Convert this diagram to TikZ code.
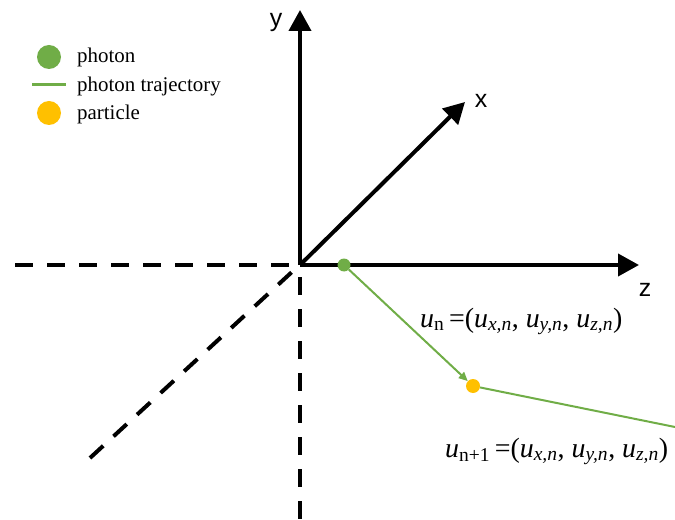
\documentclass[tikz,border=0pt]{standalone}
\usepackage{fontspec}
\setmainfont{Liberation Serif}
\newfontfamily\axisfont{Liberation Sans}
\usetikzlibrary{arrows.meta}
\definecolor{photongreen}{HTML}{70AD47}
\definecolor{particleorange}{HTML}{FFC000}
\newcommand{\usym}[1]{\textit{u}\textsubscript{#1}}

\begin{document}
\begin{tikzpicture}[x=1bp, y=-1bp,
    axis/.style={line width=4bp, -{Triangle[length=21bp,width=22bp]}},
    dashaxis/.style={line width=4bp, dash pattern=on 18bp off 14bp},
    axislabel/.style={font=\axisfont\fontsize{25}{25}\selectfont},
    photon/.style={circle, fill=photongreen, inner sep=0pt, minimum size=13bp},
    particle/.style={circle, fill=particleorange, inner sep=0pt, minimum size=14bp},
    traj/.style={photongreen, line width=2bp},
    legendtext/.style={anchor=base west, inner sep=0pt, font=\fontsize{21}{21}\selectfont},
    ulabel/.style={anchor=base west, inner sep=0pt, font=\fontsize{28}{28}\selectfont}]
    \useasboundingbox (0,0) rectangle (675,520);

    % legend
    \node[photon, minimum size=24bp] (legph) at (49,57) {};
    \node[particle, minimum size=24bp] (legpt) at (49,113) {};
    \coordinate (legtrajA) at (32,85);
    \coordinate (legtrajB) at (66,85);
    \draw[traj, line width=3bp] (legtrajA) -- (legtrajB);
    \node[legendtext] (legphtext) at (77,63) {photon};
    \node[legendtext] (legtrajtext) at (77,92) {photon trajectory};
    \node[legendtext] (legpttext) at (77,120) {particle};

    % axes
    \coordinate (origin) at (300,265);
    \coordinate (ytip) at (300,10);
    \coordinate (xtip) at (465,102);
    \coordinate (ztip) at (639,265);
    \draw[axis] (origin) -- (ytip);
    \draw[axis] (origin) -- (xtip);
    \draw[axis] (origin) -- (ztip);
    \node[axislabel] (ylabel) at (276,23) {y};
    \node[axislabel] (xlabel) at (481,101) {x};
    \node[axislabel] (zlabel) at (645,290) {z};

    % negative half-axes
    \coordinate (zneg) at (15,265);
    \coordinate (yneg) at (300,520);
    \coordinate (xneg) at (90,458);
    \coordinate (ystart) at (300,277);
    \coordinate (xstart) at (293,271);
    \draw[dashaxis] (zneg) -- (origin);
    \draw[dashaxis] (ystart) -- (yneg);
    \draw[dashaxis] (xneg) -- (xstart);

    % photon path
    \node[photon] (ph) at (344,265) {};
    \node[particle] (pt) at (473,386) {};
    \coordinate (exit) at (675,427);
    \draw[traj, -{Triangle[length=9bp,width=8bp]}] (ph) -- (pt);
    \draw[traj] (pt) -- (exit);

    \node[ulabel] (un) at (420,327)
      {\usym{n}\,=(\usym{\textit{x,n}}, \usym{\textit{y,n}}, \usym{\textit{z,n}})};
    \node[ulabel] (unext) at (445,457)
      {\usym{n+1}\,=(\usym{\textit{x,n}}, \usym{\textit{y,n}}, \usym{\textit{z,n}})};
\end{tikzpicture}
\end{document}
